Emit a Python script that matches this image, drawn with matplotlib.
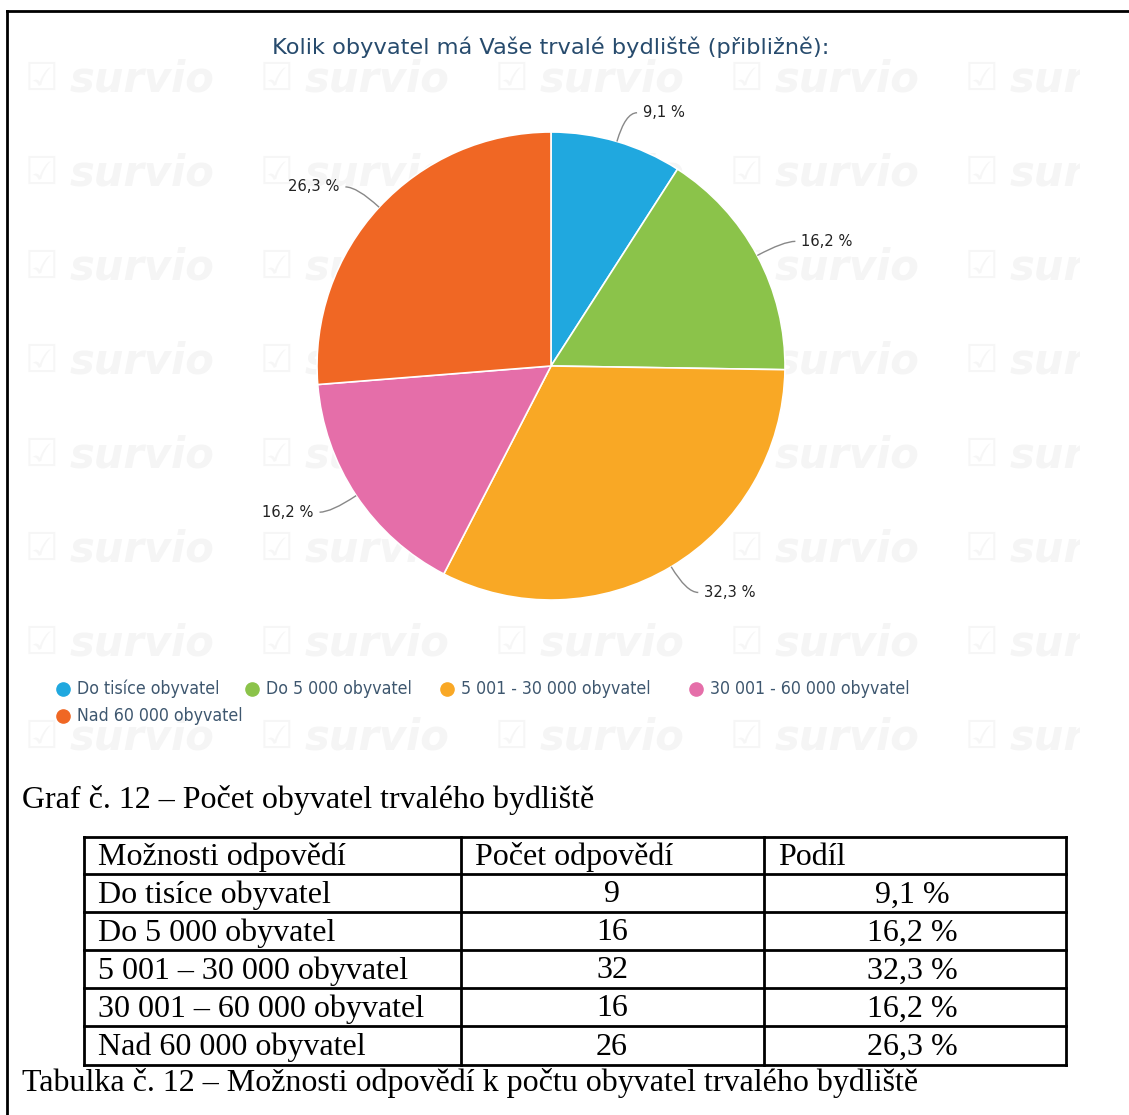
import numpy as np
import matplotlib.pyplot as plt
from matplotlib.lines import Line2D
from matplotlib.path import Path
from matplotlib.patches import PathPatch

plt.rcParams['font.family'] = ['DejaVu Sans']

W, H = 1129, 1115

# data
options = ['Do tisíce obyvatel', 'Do 5 000 obyvatel', '5 001 - 30 000 obyvatel',
           '30 001 - 60 000 obyvatel', 'Nad 60 000 obyvatel']
table_options = ['Do tisíce obyvatel', 'Do 5 000 obyvatel', '5 001 – 30 000 obyvatel',
                 '30 001 – 60 000 obyvatel', 'Nad 60 000 obyvatel']
counts = [9, 16, 32, 16, 26]
colors = ['#20a8df', '#8bc34a', '#f9a825', '#e56ea9', '#f06724']

title = 'Kolik obyvatel má Vaše trvalé bydliště (přibližně):'
graf_caption = 'Graf č. 12 – Počet obyvatel trvalého bydliště'
tab_caption = 'Tabulka č. 12 – Možnosti odpovědí k počtu obyvatel trvalého bydliště'
headers = ['Možnosti odpovědí', 'Počet odpovědí', 'Podíl']

shares = [c / sum(counts) * 100 for c in counts]
share_txt = [('%.1f %%' % s).replace('.', ',') for s in shares]


def fx(x):
    return x / W


def fy(y):
    return 1 - y / H


fig = plt.figure(figsize=(W / 100, H / 100), dpi=100)

# background with watermark (chart image area)
bg = fig.add_axes([fx(8), fy(770), fx(1080) - fx(8), fy(12) - fy(770)])
bg.set_xlim(8, 1080)
bg.set_ylim(770, 12)
bg.axis('off')
for row_y in np.arange(80, 770, 94):
    for col_x in np.arange(25, 1080, 235):
        bg.text(col_x, row_y, '☑', fontsize=27, color='#f6f6f6', va='center',
                ha='left', clip_on=True)
        bg.text(col_x + 45, row_y, 'survio', fontsize=30, color='#f5f5f5',
                weight='bold', style='italic', va='center', ha='left', clip_on=True)

# pie
cx, cy, r = 551, 366, 234
ax = fig.add_axes([fx(cx - r), fy(cy + r), 2 * r / W, 2 * r / H])
wedges, _ = ax.pie(counts, colors=colors, startangle=90, counterclock=False,
                   radius=1, wedgeprops=dict(edgecolor='white', linewidth=1.2))
ax.set_xlim(-1, 1)
ax.set_ylim(-1, 1)
ax.axis('off')

for w, txt in zip(wedges, share_txt):
    ang = np.deg2rad((w.theta1 + w.theta2) / 2)
    ex, ey = np.cos(ang), np.sin(ang)
    lx, ly = 1.128 * ex, 1.128 * ey
    side = 1 if ex >= 0 else -1
    tx = lx + side * 0.05
    path = Path([(tx, ly), (lx, ly), (ex, ey)], [Path.MOVETO, Path.CURVE3, Path.CURVE3])
    ax.add_patch(PathPatch(path, fc='none', ec='#888888', lw=1, clip_on=False))
    ax.text(lx + side * 0.075, ly, txt, ha='left' if side > 0 else 'right',
            va='center', fontsize=11.8, color='#222222', fontstretch='condensed',
            clip_on=False)

fig.text(fx(551), fy(47), title, ha='center', va='center', fontsize=16.2,
         color='#274b6d')

# legend
leg_pos = [(63, 689), (252, 689), (447, 689), (696, 689), (63, 716)]
for (lx, ly), lab, col in zip(leg_pos, options, colors):
    fig.add_artist(Line2D([fx(lx)], [fy(ly)], marker='o', markersize=9.5,
                          color=col, linestyle='none'))
    fig.text(fx(lx + 14), fy(ly), lab, ha='left', va='center', fontsize=12.7,
             color='#3e576f', fontstretch='condensed')

# frame
fig.add_artist(Line2D([fx(7), fx(1129)], [fy(11), fy(11)], color='black', lw=2))
fig.add_artist(Line2D([fx(7), fx(7)], [fy(11), fy(1115)], color='black', lw=2))

serif = ['Liberation Serif', 'DejaVu Serif']
fig.text(fx(22), fy(800), graf_caption, ha='left', va='center', fontsize=23,
         family=serif)
fig.text(fx(22), fy(1083), tab_caption, ha='left', va='center', fontsize=23,
         family=serif)

# table
col_x = [84, 461, 764, 1066]
row_y = [837, 874, 912, 950, 988, 1026, 1065]
for y in row_y:
    fig.add_artist(Line2D([fx(col_x[0]), fx(col_x[-1])], [fy(y), fy(y)],
                          color='black', lw=2))
for x in col_x:
    fig.add_artist(Line2D([fx(x), fx(x)], [fy(row_y[0]), fy(row_y[-1])],
                          color='black', lw=2))

for j, hdr in enumerate(headers):
    fig.text(fx(col_x[j] + 14), fy((row_y[0] + row_y[1]) / 2 + 2), hdr,
             ha='left', va='center', fontsize=23, family=serif)
for i, (opt, cnt, sh) in enumerate(zip(table_options, counts, share_txt)):
    yc = (row_y[i + 1] + row_y[i + 2]) / 2 + 2
    fig.text(fx(col_x[0] + 14), fy(yc), opt, ha='left', va='center',
             fontsize=23, family=serif)
    fig.text(fx(612), fy(yc), str(cnt), ha='center', va='center',
             fontsize=23, family=serif)
    fig.text(fx(912), fy(yc), sh, ha='center', va='center',
             fontsize=23, family=serif)

plt.savefig('out.png', dpi=100)
